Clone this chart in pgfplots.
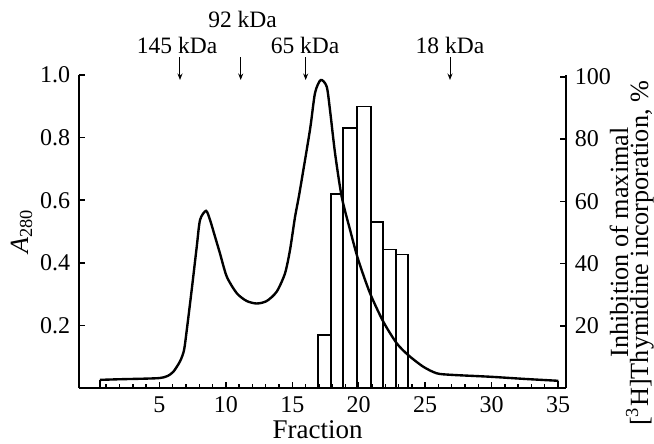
\documentclass[border=0pt]{standalone}
\usepackage{fontspec}
\setmainfont{Liberation Serif}
\usepackage{pgfplots}
\pgfplotsset{compat=1.18}
\usetikzlibrary{arrows.meta}

\pgfplotsset{
  gelbase/.style={
    scale only axis, width=194.8pt, height=125.2pt,
    xmin=-1.05, xmax=35.6, clip=false,
    axis line style={line width=0.85pt},
    tick style={line width=0.6pt, black},
    tick align=inside,
    major tick length=2.6pt, minor tick length=1.8pt,
    tick label style={font=\fontsize{9.6}{11}\selectfont},
    /pgf/number format/assume math mode=true,
  },
}

\begin{document}
\begin{tikzpicture}
\useasboundingbox (-31.6pt,-22pt) rectangle (230pt,155.2pt);

% A280 elution profile (left axis)
\begin{axis}[gelbase,
  axis x line*=bottom, axis y line*=left,
  ymin=0, ymax=1,
  xtick={5,10,15,20,25,30,35}, minor xtick={1,...,34},
  ytick={0.2,0.4,0.6,0.8,1.0},
  yticklabel style={/pgf/number format/.cd, fixed, fixed zerofill, precision=1},
]
\addplot[black, line width=0.95pt, smooth, tension=0.45] coordinates {
 (0.53,0.026) (2,0.028) (4,0.030) (5.05,0.032) (5.6,0.038) (6.05,0.052)
 (6.55,0.085) (6.85,0.12) (7.06,0.185) (7.43,0.313) (7.81,0.451)
 (8.06,0.537) (8.51,0.566) (8.81,0.537) (9.19,0.483) (9.56,0.430)
 (10.07,0.356) (10.82,0.303) (11.57,0.278) (12.33,0.270) (13.08,0.278)
 (13.83,0.308) (14.45,0.366) (14.83,0.441) (15.21,0.547) (15.55,0.625)
 (16.33,0.824) (16.71,0.942) (17.14,0.984) (17.59,0.963) (17.84,0.888)
 (18.22,0.750) (18.72,0.611) (19.35,0.505) (19.97,0.409) (20.85,0.303)
 (21.85,0.212) (22.86,0.143) (23.73,0.105) (24.86,0.068) (25.87,0.047)
 (27,0.042) (29.88,0.036) (32.5,0.029) (35.02,0.023)};
\addplot[black, line width=0.95pt] coordinates {(0.53,0) (0.53,0.026)};
\addplot[black, line width=0.95pt] coordinates {(35.02,0) (35.02,0.023)};

% molecular mass markers
\foreach \xm in {6.55,11.12,16.01,26.87}{
  \edef\tmp{\noexpand\draw[line width=0.4pt, -{Stealth[length=2.6pt,width=2pt]}]
    (axis cs:\xm,1.057) -- (axis cs:\xm,0.984);}\tmp
}
\node[anchor=base, font=\fontsize{9.4}{11}\selectfont] at (axis cs:6.33,1.069) {145 kDa};
\node[anchor=base, font=\fontsize{9.4}{11}\selectfont] at (axis cs:11.26,1.151) {92 kDa};
\node[anchor=base, font=\fontsize{9.4}{11}\selectfont] at (axis cs:15.96,1.069) {65 kDa};
\node[anchor=base, font=\fontsize{9.4}{11}\selectfont] at (axis cs:26.87,1.069) {18 kDa};

\node[anchor=base, font=\fontsize{10.8}{13}\selectfont, yshift=-20.2pt]
  at (rel axis cs:0.49,0) {Fraction};
\node[rotate=90, font=\fontsize{10.5}{12}\selectfont]
  at ([xshift=-23pt]rel axis cs:0,0.5) {\textit{A}\textsubscript{280}};
\end{axis}

% inhibition bars (right axis)
\begin{axis}[gelbase,
  axis x line=none, axis y line*=right, xtick=\empty,
  ymin=0, ymax=100.6,
  ytick={20,40,60,80,100},
]
\addplot[ybar interval, draw=black, fill=none, line width=0.7pt] coordinates {
 (16.96,17) (17.9,62.3) (18.8,83.5) (19.85,90.5) (20.9,53.4)
 (21.85,44.5) (22.8,42.9) (23.73,0)};
\node[rotate=90, anchor=base, font=\fontsize{10.5}{12}\selectfont]
  at ([xshift=24.8pt]rel axis cs:1,0.465) {Inhibition of maximal};
\node[rotate=90, anchor=base, font=\fontsize{10.5}{12}\selectfont]
  at ([xshift=32.8pt]rel axis cs:1,0.43) {[\textsuperscript{3}H]Thymidine incorporation, \%};
\end{axis}
\end{tikzpicture}
\end{document}
